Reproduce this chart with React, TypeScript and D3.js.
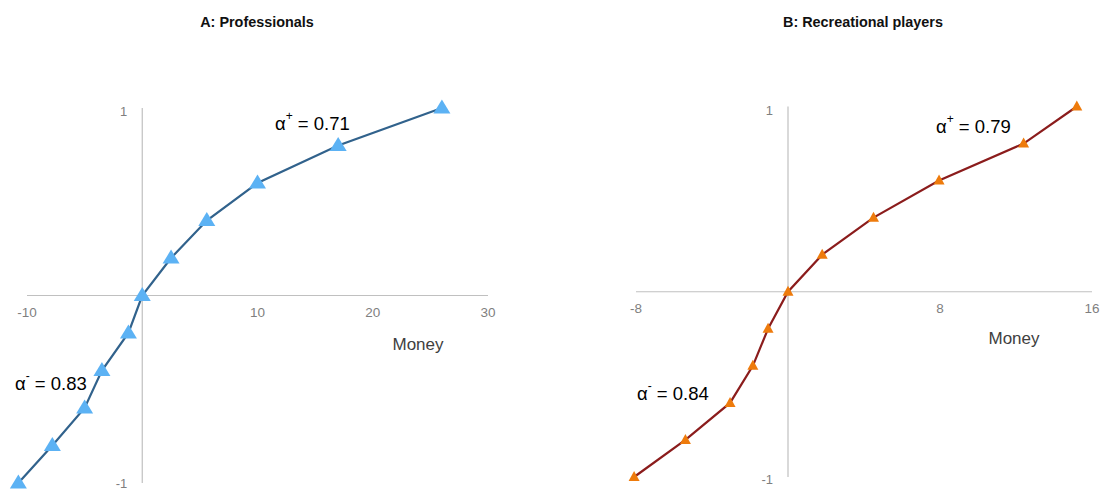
import React from "react";
import * as d3 from "d3";

// Panel A: professionals
const proMoney = [-10.75, -7.8, -5.0, -3.5, -1.2, 0, 2.5, 5.6, 10, 17, 26];
const proValue = [-1, -0.8, -0.6, -0.4, -0.2, 0, 0.2, 0.4, 0.6, 0.8, 1];
const proXTicks = [-10, 10, 20, 30];

// Panel B: recreational players
const recMoney = [-8.1, -5.4, -3.05, -1.85, -1.05, 0, 1.8, 4.5, 7.95, 12.4, 15.2];
const recValue = [-1, -0.8, -0.6, -0.4, -0.2, 0, 0.2, 0.4, 0.6, 0.8, 1];
const recXTicks = [-8, 8, 16];

const yTicks = [1, -1];

type PanelProps = {
  title: string;
  titleX: number;
  money: number[];
  value: number[];
  xDomain: [number, number];
  xRange: [number, number];
  yRange: [number, number];
  xTicks: number[];
  lineColor: string;
  markerColor: string;
  markerW: number;
  markerH: number;
  alphaPlus: string;
  alphaMinus: string;
  plusPos: [number, number];
  minusPos: [number, number];
  moneyPos: [number, number];
};

function Panel(p: PanelProps) {
  const x = d3.scaleLinear().domain(p.xDomain).range(p.xRange);
  const y = d3.scaleLinear().domain([-1, 1]).range(p.yRange);
  const pts: [number, number][] = p.money.map((m, i) => [m, p.value[i]]);
  const line = d3
    .line<[number, number]>()
    .x((d) => x(d[0]))
    .y((d) => y(d[1]));
  const tri = (cx: number, cy: number) => {
    const w = p.markerW / 2;
    const h = p.markerH;
    return `M${cx},${cy - h * 0.6}L${cx + w},${cy + h * 0.4}L${cx - w},${cy + h * 0.4}Z`;
  };
  const axisColor = "#c0c0c0";
  const tickColor = "#7f7f7f";
  const x0 = x(0);
  const y0 = y(0);
  return (
    <g fontFamily="'Liberation Sans', Arial, sans-serif">
      <text x={p.titleX} y={26.5} textAnchor="middle" fontSize={14.4} fontWeight="bold" fill="#111">
        {p.title}
      </text>
      {/* axes crossing at the origin */}
      <line x1={p.xRange[0]} x2={p.xRange[1]} y1={y0} y2={y0} stroke={axisColor} strokeWidth={1.2} />
      <line x1={x0} x2={x0} y1={p.yRange[1]} y2={p.yRange[0]} stroke={axisColor} strokeWidth={1.2} />
      {p.xTicks.map((t) => (
        <text key={t} x={x(t)} y={y0 + 21.5} textAnchor="middle" fontSize={13.5} fill={tickColor}>
          {t}
        </text>
      ))}
      {yTicks.map((t) => (
        <text
          key={t}
          x={x0 - 15}
          y={Math.min(y(t) + (t > 0 ? 8 : 7), 488)}
          textAnchor="end"
          fontSize={13}
          fill={tickColor}
        >
          {t}
        </text>
      ))}
      <text x={p.moneyPos[0]} y={p.moneyPos[1]} textAnchor="middle" fontSize={17} fill="#404040">
        Money
      </text>
      <path d={line(pts) ?? ""} fill="none" stroke={p.lineColor} strokeWidth={2.2} />
      {pts.map((d, i) => (
        <path key={i} d={tri(x(d[0]), y(d[1]))} fill={p.markerColor} />
      ))}
      <text x={p.plusPos[0]} y={p.plusPos[1]} fontSize={18.5} fill="#000">
        α<tspan fontSize={12} dy={-10}>+</tspan>
        <tspan dy={10}> = {p.alphaPlus}</tspan>
      </text>
      <text x={p.minusPos[0]} y={p.minusPos[1]} fontSize={18.5} fill="#000">
        α<tspan fontSize={12} dy={-10}>-</tspan>
        <tspan dy={10}> = {p.alphaMinus}</tspan>
      </text>
    </g>
  );
}

export default function App() {
  return (
    <svg width={1102} height={490} style={{ position: "absolute", left: 0, top: 0 }}>
      <rect width={1102} height={490} fill="#fff" />
      <Panel
        title="A: Professionals"
        titleX={257}
        money={proMoney}
        value={proValue}
        xDomain={[-10, 30]}
        xRange={[27, 488]}
        yRange={[483, 108]}
        xTicks={proXTicks}
        lineColor="#31628c"
        markerColor="#5cb2f4"
        markerW={17}
        markerH={14}
        alphaPlus="0.71"
        alphaMinus="0.83"
        plusPos={[275, 129.5]}
        minusPos={[15, 390]}
        moneyPos={[418, 350]}
      />
      <Panel
        title="B: Recreational players"
        titleX={863}
        money={recMoney}
        value={recValue}
        xDomain={[-8, 16]}
        xRange={[636, 1092]}
        yRange={[477, 106.5]}
        xTicks={recXTicks}
        lineColor="#8b1c1c"
        markerColor="#ee7b0c"
        markerW={11}
        markerH={10}
        alphaPlus="0.79"
        alphaMinus="0.84"
        plusPos={[936, 133]}
        minusPos={[637, 400]}
        moneyPos={[1014, 344]}
      />
    </svg>
  );
}
